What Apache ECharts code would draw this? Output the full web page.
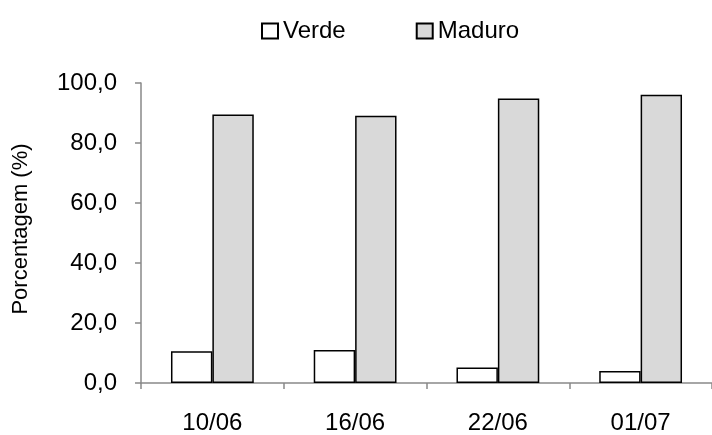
<!DOCTYPE html>
<html><head><meta charset="utf-8">
<script src="https://cdn.jsdelivr.net/npm/echarts@6/dist/echarts.min.js"></script>
<style>html,body{margin:0;padding:0;background:#fff}#c{width:712px;height:435px}</style>
</head><body><div id="c"></div>
<script>
const categories = ['10/06', '16/06', '22/06', '01/07'];
const verde = [10.6, 11.0, 5.2, 4.0];
const maduro = [89.5, 89.1, 94.8, 96.1];
const yTicks = [0, 20, 40, 60, 80, 100];

const chart = echarts.init(document.getElementById('c'));
const font = 'Liberation Sans, Arial, sans-serif';
chart.setOption({
  animation: false,
  textStyle: { fontFamily: font },
  legend: {
    top: 14, left: 256,
    itemWidth: 16, itemHeight: 15, itemGap: 70,
    icon: 'rect',
    textStyle: { fontSize: 24, color: '#000', fontFamily: font },
    data: ['Verde', 'Maduro']
  },
  grid: { left: 141, right: 0, top: 83, bottom: 52 },
  xAxis: {
    type: 'category', data: categories,
    axisLine: { lineStyle: { color: '#898989', width: 1.5 } },
    axisTick: { show: true, length: 6, lineStyle: { color: '#898989', width: 1.5 } },
    axisLabel: { fontSize: 24, color: '#000', margin: 28, fontFamily: font }
  },
  yAxis: {
    type: 'value', min: yTicks[0], max: yTicks[yTicks.length-1], interval: 20,
    name: 'Porcentagem (%)', nameLocation: 'middle', nameGap: 109, nameRotate: 90,
    nameTextStyle: { fontSize: 22, color: '#000', fontFamily: font, padding: [0, 0, 0, 8] },
    axisLine: { show: true, lineStyle: { color: '#898989', width: 1.5 } },
    axisTick: { show: true, length: 6, lineStyle: { color: '#898989', width: 1.5 } },
    splitLine: { show: false },
    axisLabel: { fontSize: 24, color: '#000', margin: 24, fontFamily: font,
      formatter: v => v.toFixed(1).replace('.', ',') }
  },
  series: [
    { name: 'Verde', type: 'bar', data: verde, barGap: '0%', barCategoryGap: '42%',
      itemStyle: { color: '#ffffff', borderColor: '#000', borderWidth: 1.5 } },
    { name: 'Maduro', type: 'bar', data: maduro, barGap: '0%', barCategoryGap: '42%',
      itemStyle: { color: '#d9d9d9', borderColor: '#000', borderWidth: 1.5 } }
  ]
});
</script></body></html>
